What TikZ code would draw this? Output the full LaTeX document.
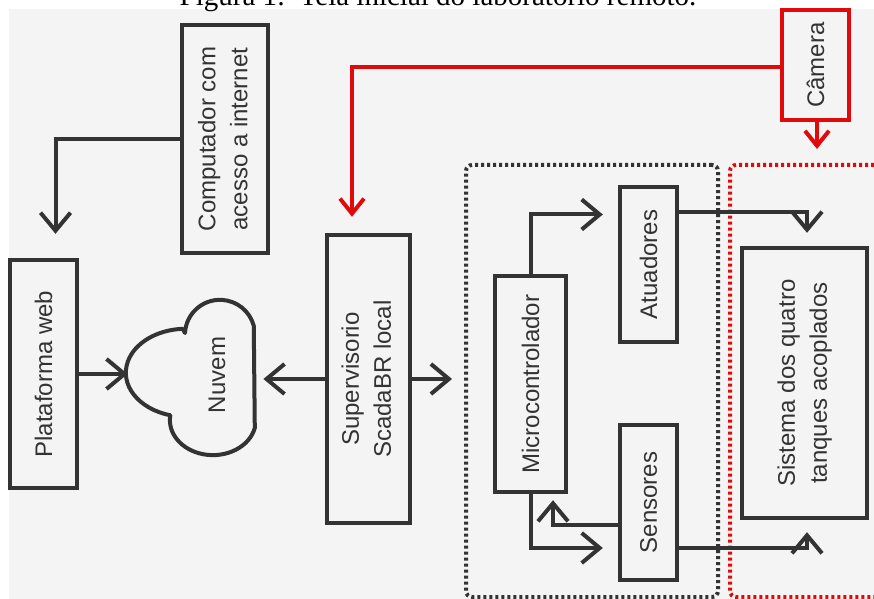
\documentclass[tikz,border=0pt]{standalone}
\usepackage{fontspec}
\setmainfont{Liberation Sans}
\newfontfamily\serifa{Liberation Serif}
\usetikzlibrary{arrows.meta, positioning}

\definecolor{cinza}{HTML}{333333}
\definecolor{fundo}{HTML}{F4F4F4}
\definecolor{vermelho}{HTML}{E10A0A}

\begin{document}
\begin{tikzpicture}
    [
        x=0.5pt, y=-0.5pt,
        bloco/.style={rectangle, draw=cinza, line width=2.2pt, text=cinza, inner sep=0pt, font=\fontsize{12}{16}\selectfont},
        camerabox/.style={bloco, draw=vermelho},
        seta/.style={draw=cinza, line width=2pt, -{Straight Barb[length=9pt, width=15pt]}},
        setavermelha/.style={draw=vermelho, line width=2pt, -{Straight Barb[length=7.5pt, width=12pt]}},
        pontilhado/.style={rectangle, draw=#1, line width=2pt, dash pattern=on 1.5pt off 1.5pt, rounded corners=3pt, inner sep=0pt},
    ]
    \useasboundingbox (0,0) rectangle (874,599);
    \fill[fundo] (9,9) rectangle (874,599);
    \node[anchor=base, font=\fontsize{14.5}{16}\serifa] (legenda) at (438,6) {Figura 1:\ \ Tela inicial do laboratório remoto.};

    % grupos pontilhados
    \node[pontilhado=cinza, minimum width=126pt, minimum height=216pt] (controle) at (592,381) {};
    \node[pontilhado=vermelho, minimum width=75pt, minimum height=216pt] (planta) at (805,381) {};

    % blocos
    \node[bloco, minimum width=43pt, minimum height=114pt] (computador) at (225,139)
        {\rotatebox{90}{\begin{tabular}{@{}c@{}}Computador com\\acesso a internet\end{tabular}}};
    \node[bloco, minimum width=33.5pt, minimum height=114pt] (plataforma) at (43.5,374)
        {\rotatebox{90}{Plataforma web}};
    \node[bloco, minimum width=41.5pt, minimum height=144pt] (supervisorio) at (368.5,379)
        {\rotatebox{90}{\begin{tabular}{@{}c@{}}Supervisorio\\ScadaBR local\end{tabular}}};
    \node[bloco, minimum width=35.5pt, minimum height=108pt] (micro) at (530.5,384)
        {\rotatebox{90}{Microcontrolador}};
    \node[bloco, minimum width=28.5pt, minimum height=77.5pt] (atuadores) at (648.5,264.5)
        {\rotatebox{90}{Atuadores}};
    \node[bloco, minimum width=28.5pt, minimum height=77.5pt] (sensores) at (648.5,502.5)
        {\rotatebox{90}{Sensores}};
    \node[bloco, minimum width=62.5pt, minimum height=135pt] (sistema) at (804.5,383)
        {\rotatebox{90}{\begin{tabular}{@{}c@{}}Sistema dos quatro\\tanques acoplados\end{tabular}}};
    \node[camerabox, minimum width=33.5pt, minimum height=55pt] (camera) at (815.5,65)
        {\rotatebox{90}{Câmera}};

    % nuvem
    \node[minimum width=64.5pt, minimum height=77pt, inner sep=0pt] (nuvem) at (192.5,378.5) {};
    \draw[cinza, line width=2pt, line join=round]
        (185,333) arc[start angle=-177, end angle=-15, radius=35]
        -- (254.8,428)
        arc[start angle=13, end angle=188, x radius=43, y radius=35]
        arc[start angle=105, end angle=267, x radius=60, y radius=44]
        -- cycle;
    \node[text=cinza, font=\fontsize{12}{16}\selectfont] (nuvem texto) at (217,375) {\rotatebox{90}{Nuvem}};

    % conexoes
    \draw[seta, shorten >=12pt] (computador.west) -| ([xshift=6pt]plataforma.north);
    \draw[seta] (plataforma.east) -- (plataforma.east -| nuvem.west);
    \draw[seta, shorten >=3pt] (supervisorio.west) -- (supervisorio.west -| nuvem.east);
    \draw[seta, shorten >=6pt] (supervisorio.east) -- (supervisorio.east -| controle.west);
    \draw[setavermelha, shorten >=8pt] ([yshift=-1pt]camera.west) -| ([xshift=-8.25pt]supervisorio.north);
    \draw[setavermelha, shorten >=7pt] ([xshift=0.75pt]camera.south) -- ([xshift=0.75pt]camera.south |- planta.north);
    \draw[seta, shorten >=7.5pt] (micro.north) |- ([yshift=25pt]atuadores.west);
    \draw[seta, shorten >=6.5pt] ([yshift=26pt]atuadores.east) -| ([xshift=1.25pt]sistema.north);
    \draw[seta, shorten >=7.5pt] (micro.south) |- ([yshift=-22.75pt]sensores.west);
    \draw[seta, shorten >=3pt] ([yshift=-11.25pt]sensores.west) -| ([xshift=11.25pt]micro.south);
    \draw[seta, shorten >=6pt] ([yshift=-22.75pt]sensores.east) -| ([xshift=1.25pt]sistema.south);
\end{tikzpicture}
\end{document}
